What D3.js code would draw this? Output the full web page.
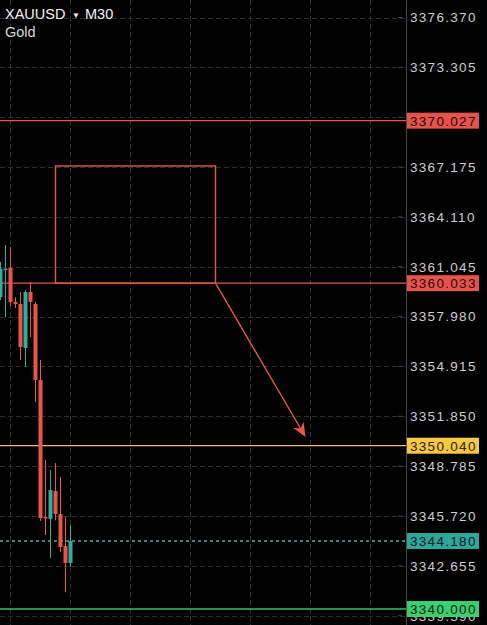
<!DOCTYPE html>
<html>
<head>
<meta charset="utf-8">
<script src="https://cdn.jsdelivr.net/npm/d3@7"></script>
<style>
  html, body { margin: 0; padding: 0; background: #000; }
  svg { display: block; }
</style>
</head>
<body>
<svg id="chart" width="487" height="625"></svg>
<script>
// price axis ticks
var tickValues = [3376.370, 3373.305, 3370.240, 3367.175, 3364.110, 3361.045,
                  3357.980, 3354.915, 3351.850, 3348.785, 3345.720, 3342.655, 3339.590];

// M30 candles, bar index 0..14
var opens  = [3359.18, 3360.84, 3360.97, 3358.88, 3358.75, 3356.05, 3359.49, 3358.75,
              3354.08, 3345.66, 3345.53, 3347.26, 3345.84, 3343.87, 3342.83];
var highs  = [3361.34, 3362.38, 3362.26, 3359.18, 3359.49, 3359.61, 3360.11, 3358.88,
              3355.31, 3349.16, 3348.55, 3348.98, 3348.12, 3345.66, 3345.16];
var lows   = [3359.00, 3357.95, 3358.63, 3358.51, 3355.31, 3354.88, 3356.72, 3352.73,
              3345.41, 3344.55, 3343.14, 3345.45, 3343.50, 3341.04, 3342.58];
var closes = [3360.91, 3360.93, 3358.88, 3358.75, 3356.11, 3359.49, 3358.88, 3354.08,
              3345.59, 3345.57, 3347.32, 3345.84, 3343.81, 3342.83, 3344.18];

// horizontal levels
var levelPrices = [3370.027, 3360.033, 3350.040, 3344.180, 3340.000];
var levelKinds  = ["red", "red", "yellow", "current", "green"];

// drawn zone and arrow (bar index / price)
var zoneBars    = [11, 43];
var zonePrices  = [3367.24, 3360.033];
var arrowBars   = [43, 61];
var arrowPrices = [3360.033, 3350.58];

// time grid every 12 bars
var gridBars = [2, 14, 26, 38, 50, 62, 74];

var levelStyle = {
    red:     {line: "#e5544b", box: "#e5544b", text: "#2a0503", dash: null},
    yellow:  {line: "#e9b872", box: "#f5c945", text: "#2a2000", dash: null},
    current: {line: "#3fb3a8", box: "#2ea69b", text: "#02201d", dash: "3,3"},
    green:   {line: "#35c268", box: "#3ccf70", text: "#03240f", dash: null}
};

var svg = d3.select("#chart");
var axisX = 406;

var xs = d3.scaleLinear().domain([0, 1]).range([0.5, 5.5]);
var ys = d3.scaleLinear().domain([3340.000, 3376.370]).range([609, 17.5]);

var defs = svg.append("defs");
defs.append("clipPath").attr("id", "plot")
    .append("rect").attr("x", 0).attr("y", 0).attr("width", axisX).attr("height", 625);
// only the part of the bottom label under the green tag is seen
defs.append("clipPath").attr("id", "under")
    .append("rect").attr("x", 400).attr("y", 617).attr("width", 87).attr("height", 8);

var plot = svg.append("g").attr("clip-path", "url(#plot)");

// grid
plot.selectAll(".hgrid").data(tickValues).enter()
    .append("line")
        .attr("x1", 0).attr("x2", axisX)
        .attr("y1", function(d) { return Math.round(ys(d)) + 0.5; })
        .attr("y2", function(d) { return Math.round(ys(d)) + 0.5; })
        .attr("stroke", "#2e2e2e")
        .attr("stroke-dasharray", "5,3");

plot.selectAll(".vgrid").data(gridBars).enter()
    .append("line")
        .attr("x1", function(d) { return xs(d); })
        .attr("x2", function(d) { return xs(d); })
        .attr("y1", 0).attr("y2", 625)
        .attr("stroke", "#2e2e2e")
        .attr("stroke-dasharray", "5,3");

// zone box
plot.append("rect")
    .attr("x", xs(zoneBars[0]))
    .attr("y", ys(zonePrices[0]))
    .attr("width", xs(zoneBars[1]) - xs(zoneBars[0]))
    .attr("height", ys(zonePrices[1]) - ys(zonePrices[0]))
    .attr("fill", "none")
    .attr("stroke", "#ea554c")
    .attr("stroke-width", 1.4);

// level lines
plot.selectAll(".level").data(levelPrices).enter()
    .append("line")
        .attr("x1", 0).attr("x2", axisX)
        .attr("y1", function(d) { return ys(d); })
        .attr("y2", function(d) { return ys(d); })
        .attr("stroke", function(d, i) { return levelStyle[levelKinds[i]].line; })
        .attr("stroke-width", 1.3)
        .attr("stroke-dasharray", function(d, i) { return levelStyle[levelKinds[i]].dash; });

// candles
var candles = d3.range(opens.length);
var up = "#2fae9f", down = "#eb5449";

plot.selectAll(".wick").data(candles).enter()
    .append("line")
        .attr("x1", function(i) { return xs(i); })
        .attr("x2", function(i) { return xs(i); })
        .attr("y1", function(i) { return ys(highs[i]); })
        .attr("y2", function(i) { return ys(lows[i]); })
        .attr("stroke", function(i) { return closes[i] >= opens[i] ? up : down; })
        .attr("stroke-width", 1);

plot.selectAll(".body").data(candles).enter()
    .append("rect")
        .attr("x", function(i) { return xs(i) - 2; })
        .attr("width", 4)
        .attr("y", function(i) { return ys(Math.max(opens[i], closes[i])); })
        .attr("height", function(i) {
            return Math.max(1.5, Math.abs(ys(opens[i]) - ys(closes[i])));
        })
        .attr("fill", function(i) { return closes[i] >= opens[i] ? up : down; });

// arrow
var ax1 = xs(arrowBars[0]), ay1 = ys(arrowPrices[0]);
var ax2 = xs(arrowBars[1]), ay2 = ys(arrowPrices[1]);
var ang = Math.atan2(ay2 - ay1, ax2 - ax1);
plot.append("line")
    .attr("x1", ax1).attr("y1", ay1)
    .attr("x2", ax2 - 6 * Math.cos(ang)).attr("y2", ay2 - 6 * Math.sin(ang))
    .attr("stroke", "#ea554c")
    .attr("stroke-width", 1.4);

plot.append("path")
    .attr("d", "M0,0 L-14,-6 L-10,0 L-14,6 Z")
    .attr("transform", "translate(" + ax2 + "," + ay2 + ") rotate(" + (ang * 180 / Math.PI) + ")")
    .attr("fill", "#ea554c");

// price axis
svg.append("line")
    .attr("x1", axisX + 0.5).attr("x2", axisX + 0.5)
    .attr("y1", 0).attr("y2", 625)
    .attr("stroke", "#4a4a4a");

var yAxis = svg.append("g");
yAxis.selectAll(".tick").data(tickValues).enter()
    .append("line")
        .attr("x1", axisX - 8).attr("x2", axisX - 4)
        .attr("y1", function(d) { return ys(d); })
        .attr("y2", function(d) { return ys(d); })
        .attr("stroke", "#444");

// labels hidden behind a level tag are not drawn, except the bottom one which peeks out
function hidden(d) {
    return levelPrices.some(function(p) { return Math.abs(ys(p) - ys(d)) < 6; });
}
var shown = tickValues.filter(function(d) { return !hidden(d); });
var peek = tickValues.filter(function(d) { return hidden(d) && ys(d) > 612; });

function priceLabel(sel) {
    sel.attr("x", 410)
        .attr("y", function(d) { return ys(d); })
        .attr("dy", "0.36em")
        .style("font-family", "Liberation Sans, Arial, sans-serif")
        .style("font-size", "13.5px")
        .style("letter-spacing", "1.3px")
        .attr("fill", "#cfcfcf")
        .text(function(d) { return d3.format(".3f")(d); });
}

yAxis.selectAll(".label").data(shown).enter()
    .append("text").call(priceLabel);

yAxis.append("g").attr("clip-path", "url(#under)")
    .selectAll("text").data(peek).enter()
    .append("text").call(priceLabel);

// level tags
var tags = svg.append("g").selectAll("g").data(levelPrices).enter()
    .append("g")
        .attr("transform", function(d) { return "translate(407," + ys(d) + ")"; });

tags.append("rect")
    .attr("x", 0).attr("y", -8)
    .attr("width", 72).attr("height", 16)
    .attr("fill", function(d, i) { return levelStyle[levelKinds[i]].box; });

tags.append("text")
    .attr("x", 3)
    .attr("dy", "0.36em")
    .style("font-family", "Liberation Sans, Arial, sans-serif")
    .style("font-size", "13.5px")
    .style("letter-spacing", "1.3px")
    .attr("fill", function(d, i) { return levelStyle[levelKinds[i]].text; })
    .text(function(d) { return d3.format(".3f")(d); });

// header
var header = svg.append("g")
    .style("font-family", "Liberation Sans, Arial, sans-serif");
header.append("text")
    .attr("x", 5).attr("y", 19)
    .style("font-size", "14.5px")
    .attr("fill", "#f2f2f2")
    .text("XAUUSD");
header.append("text")
    .attr("x", 72).attr("y", 18)
    .style("font-size", "8px")
    .attr("fill", "#f2f2f2")
    .text("▼");
header.append("text")
    .attr("x", 85).attr("y", 19)
    .style("font-size", "14.5px")
    .attr("fill", "#f2f2f2")
    .text("M30");
header.append("text")
    .attr("x", 5).attr("y", 37)
    .style("font-size", "14.5px")
    .attr("fill", "#d8d8d8")
    .text("Gold");
</script>
</body>
</html>
